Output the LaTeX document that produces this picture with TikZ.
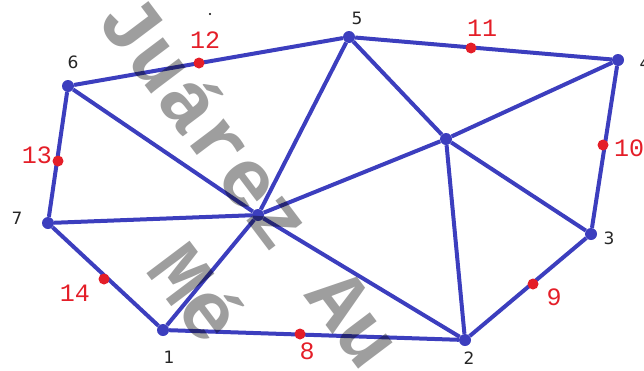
\documentclass[tikz,border=0pt]{standalone}
\usepackage{fontspec}
\newfontfamily\monofont{Liberation Mono}
\newfontfamily\labfont{DejaVu Sans}
\definecolor{meshblue}{RGB}{60,62,190}
\definecolor{midred}{RGB}{228,30,40}

\begin{document}
\begin{tikzpicture}[x=1pt,y=-1pt,
    vert/.style={circle,fill=meshblue,inner sep=0pt,minimum size=12pt},
    midpt/.style={circle,fill=midred,inner sep=0pt,minimum size=11pt},
    vlab/.style={font=\labfont\fontsize{17}{17}\selectfont,text=black!85},
    mlab/.style={font=\monofont\fontsize{25}{25}\selectfont,text=midred},
    edge/.style={meshblue,line width=4pt},
    wmark/.style={font=\monofont\bfseries\fontsize{82}{82}\selectfont,text=black,text opacity=0.38,rotate=-53}]
        \useasboundingbox (0,0) rectangle (644,370);
        \clip (0,0) rectangle (644,370);
        % corner nodes of the mesh
        \node[vert] (n1) at (163,330) {};
        \node[vert] (n2) at (465,340) {};
        \node[vert] (n3) at (591,234) {};
        \node[vert] (n4) at (618,60) {};
        \node[vert] (n5) at (349,37) {};
        \node[vert] (n6) at (68,86) {};
        \node[vert] (n7) at (48,223) {};
        % two inner nodes, no number
        \node[vert] (ia) at (258,215) {};
        \node[vert] (ib) at (446,139) {};
        % boundary, then inner edges
        \foreach \a/\b in {n1/n2,n2/n3,n3/n4,n4/n5,n5/n6,n6/n7,n7/n1}
            \draw[edge] (\a) -- (\b);
        \foreach \a/\b in {ia/n7,ia/n1,ia/n6,ia/n2,ia/n5,ia/ib,ib/n5,ib/n4,ib/n3,ib/n2}
            \draw[edge] (\a) -- (\b);
        % side nodes
        \node[midpt] (m8) at (300,334) {};
        \node[midpt] (m9) at (533,284) {};
        \node[midpt] (m10) at (603,145) {};
        \node[midpt] (m11) at (471,48) {};
        \node[midpt] (m12) at (199,63) {};
        \node[midpt] (m13) at (58,161) {};
        \node[midpt] (m14) at (104,279) {};
        % numbers
        \node[vlab] (l1) at (169,357) {1};
        \node[vlab] (l2) at (469,358) {2};
        \node[vlab] (l3) at (609,238) {3};
        \node[vlab] (l4) at (645,63) {4};
        \node[vlab] (l5) at (357,18) {5};
        \node[vlab] (l6) at (73,62) {6};
        \node[vlab] (l7) at (17,218) {7};
        \node[mlab] (l8) at (307,351) {8};
        \node[mlab] (l9) at (554,297) {9};
        \node[mlab] (l10) at (629,148) {10};
        \node[mlab] (l11) at (482,28) {11};
        \node[mlab] (l12) at (205,40) {12};
        \node[mlab] (l13) at (37,155) {13};
        \node[mlab] (l14) at (75,293) {14};
        \fill (210,14) circle (1.2pt);
        % watermark
        \node[wmark] (wm1) at (252,180) {Juárez Au};
        \node[wmark] (wm2) at (197,292) {Mé};
      \end{tikzpicture}
\end{document}
